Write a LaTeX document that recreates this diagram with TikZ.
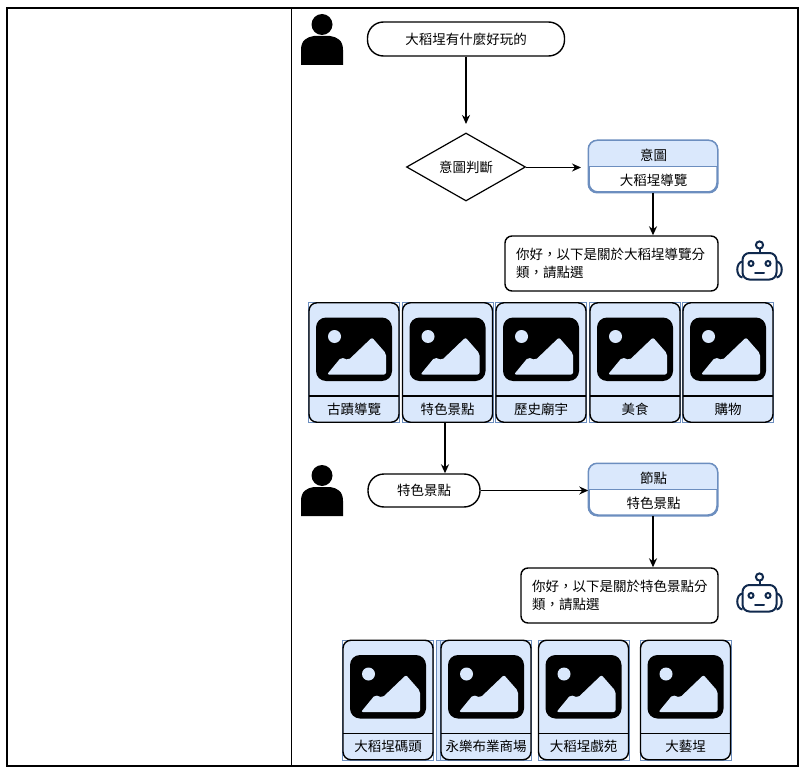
\documentclass[tikz,border=0pt]{standalone}
\usepackage{fontspec}
\setmainfont{Noto Sans CJK TC}
\usetikzlibrary{arrows.meta,shapes.geometric}
\definecolor{cardfill}{HTML}{DAE8FC}
\definecolor{cardblue}{HTML}{6C8EBF}
\definecolor{robotnavy}{HTML}{10294D}
\tikzset{
  flowline/.style={draw=black,line width=1.5pt,-{Stealth[length=9pt,width=8pt]}},
  thinflow/.style={flowline,line width=1.1pt},
  cjk/.style={font=\fontsize{13.5}{18}\selectfont,text=black,inner sep=0pt},
  bubble/.style={cjk,draw=black,line width=1.4pt,rounded corners=16pt,fill=white},
  msgbox/.style={cjk,draw=black,line width=1.4pt,rounded corners=7pt,fill=white,align=left,text width=#1},
  intentbox/.style={draw=cardblue,line width=1.5pt,rounded corners=9pt,minimum width=128pt,minimum height=51pt,inner sep=0pt},
  pics/person/.style={code={
    \fill[black] (0,-15.5) circle (10.5);
    \fill[black] (-21,25) -- (-21,10) .. controls (-21,0) and (-15,-3) .. (-8,-4) -- (8,-4)
      .. controls (15,-3) and (21,0) .. (21,10) -- (21,25) -- cycle;
  }},
  pics/robot/.style={code={
    \begin{scope}[draw=robotnavy,line width=2pt]
      \draw (0,-16.5) circle (3.6);
      \draw (0,-12.9) -- (0,-8.5);
      \draw[rounded corners=7pt] (-17,-8.5) rectangle (17,18);
      \draw (-17,0) .. controls (-24,1) and (-24,15) .. (-17,16);
      \draw (17,0) .. controls (24,1) and (24,15) .. (17,16);
      \draw (-8.5,2) circle (2.5);
      \draw (8.5,2) circle (2.5);
      \draw[line cap=round] (-4.5,11) -- (4.5,11);
    \end{scope}
  }},
  pics/imgcard/.style={code={
    \draw[cardblue,line width=0.6pt] (-45.5,-60) rectangle (45.5,60);
    \node[draw=black,line width=1.4pt,fill=cardfill,rounded corners=8pt,
      minimum width=90pt,minimum height=119.5pt,inner sep=0pt] (-box) at (0,0) {};
    \fill[black,rounded corners=10pt] (-38,-45) rectangle (38,18.5);
    \fill[cardfill] (-19.5,-26) circle (6.5);
    \fill[cardfill,rounded corners=2pt] (-27,12) -- (-13,-5) -- (-5.5,-2.5) -- (18,-25)
      -- (32,-9) -- (32,12) -- cycle;
    \draw[black,line width=1.2pt] (-45,33.5) -- (45,33.5);
    \node[cjk] (-label) at (0,46.5) {#1};
  }}
}
\begin{document}
\begin{tikzpicture}[x=1pt,y=-1pt]
  \useasboundingbox (0,0) rectangle (804,773);
  % table
  \draw[black,line width=1.2pt] (7,8) rectangle (798,766);
  \draw[black,line width=1.2pt] (291.5,8) -- (291.5,766);

  % first exchange
  \pic (usera) at (322,40) {person};
  \node[bubble,minimum width=197pt,minimum height=34pt] (aska) at (466,39) {大稻埕有什麼好玩的};
  \node[cjk,draw=black,line width=1.2pt,shape=diamond,aspect=1.75,minimum width=119pt,minimum height=68pt] (judge) at (466,167) {意圖判斷};
  \coordinate (judgein) at (466,124);
  \coordinate (intentin) at (581,167.5);
  \draw[flowline] (aska) -- (judgein);
  \draw[thinflow] (judge.east |- intentin) -- (intentin);
  \node[intentbox] (intenta) at (653,166.5) {};
  \begin{scope}
    \clip[rounded corners=9pt] (intenta.south west) rectangle (intenta.north east);
    \fill[cardfill] (intenta.north west) rectangle (intenta.east);
  \end{scope}
  \draw[draw=cardblue,line width=1.5pt,rounded corners=9pt] (intenta.south west) rectangle (intenta.north east);
  \draw[cardblue,line width=1.2pt] (intenta.west) -- (intenta.east);
  \node[cjk] (intentahead) at (653.5,155) {意圖};
  \node[cjk] (intentaval) at (653.5,180) {大稻埕導覽};
  \node[msgbox=191pt,minimum height=55pt,inner xsep=11pt] (msga) at (611.5,263.5) {你好，以下是關於大稻埕導覽分\\類，請點選};
  \draw[flowline] (intenta) -- (intenta |- msga.north);
  \pic (robota) at (759.5,261.5) {robot};

  % first row of cards
  \pic (carda) at (354,362.5) {imgcard={古蹟導覽}};
  \pic (cardb) at (447.5,362.5) {imgcard={特色景點}};
  \pic (cardc) at (541,362.5) {imgcard={歷史廟宇}};
  \pic (cardd) at (635,362.5) {imgcard={美食}};
  \pic (carde) at (728,362.5) {imgcard={購物}};

  % second exchange
  \pic (userb) at (322,491) {person};
  \node[bubble,minimum width=112pt,minimum height=33pt] (askb) at (424,490.5) {特色景點};
  \draw[flowline] ([xshift=-2.5pt]cardb-box.south) -- ([xshift=-2.5pt]cardb-box.south |- askb.north);
  \node[intentbox] (intentb) at (653,489.5) {};
  \begin{scope}
    \clip[rounded corners=9pt] (intentb.south west) rectangle (intentb.north east);
    \fill[cardfill] (intentb.north west) rectangle (intentb.east);
  \end{scope}
  \draw[draw=cardblue,line width=1.5pt,rounded corners=9pt] (intentb.south west) rectangle (intentb.north east);
  \draw[cardblue,line width=1.2pt] (intentb.west) -- (intentb.east);
  \node[cjk] (intentbhead) at (653.5,478) {節點};
  \node[cjk] (intentbval) at (653.5,503) {特色景點};
  \draw[thinflow] (askb.east) -- (askb.east -| intentb.west);
  \node[msgbox=175pt,minimum height=55pt,inner xsep=11pt] (msgb) at (619.5,595.5) {你好，以下是關於特色景點分\\類，請點選};
  \draw[flowline] (intentb) -- (intentb |- msgb.north);
  \pic (robotb) at (759.5,593.5) {robot};

  % second row of cards
  \pic (cardf) at (388,700) {imgcard={大稻埕碼頭}};
  \fill[cardfill] (436.7,640) rectangle (445,760);
  \draw[cardblue,line width=0.6pt] (436.7,640) rectangle (445,760);
  \pic (cardg) at (486,700) {imgcard={永樂布業商場}};
  \pic (cardh) at (583.5,700) {imgcard={大稻埕戲苑}};
  \pic (cardi) at (685.5,700) {imgcard={大藝埕}};
\end{tikzpicture}
\end{document}
